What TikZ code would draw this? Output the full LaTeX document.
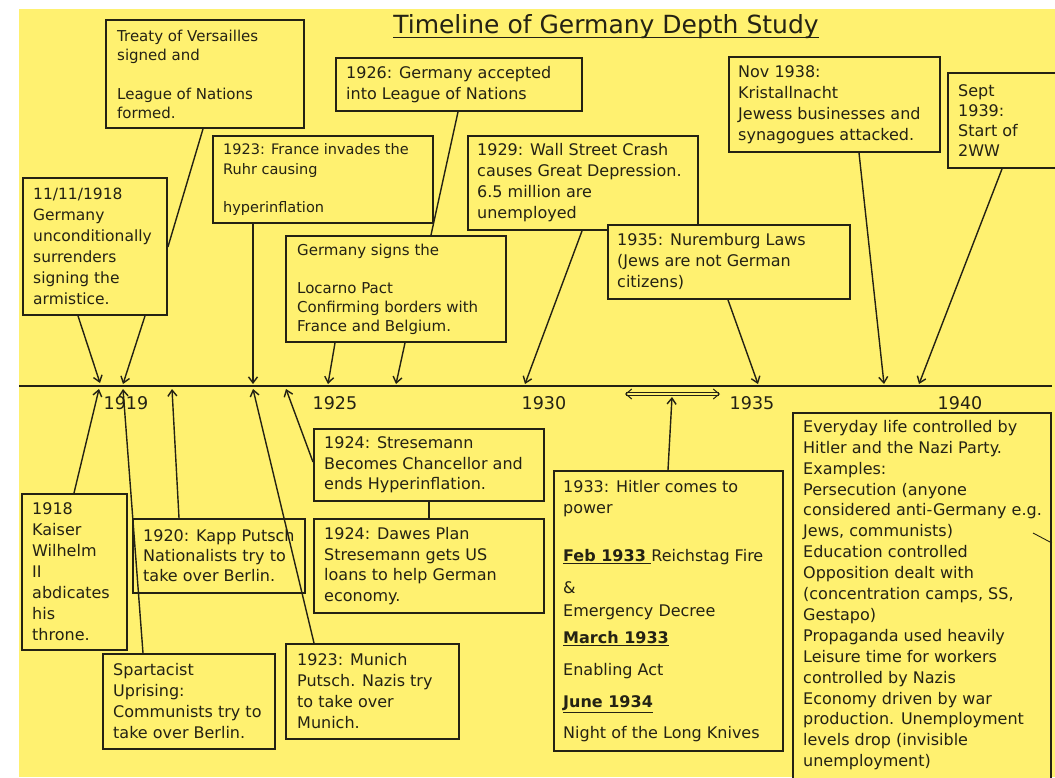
\documentclass[tikz,border=0pt]{standalone}
\usepackage{fontspec}
\setmainfont{DejaVu Sans}
\usetikzlibrary{arrows.meta}
\definecolor{paper}{RGB}{255,241,112}
\definecolor{ink}{RGB}{36,34,20}
\newcommand\evfont{\fontsize{16}{21}\selectfont}
\newcommand\yearfont{\fontsize{17.5}{20}\selectfont}
\newcommand\titlefont{\fontsize{25}{30}\selectfont}
% \eventbox[font]{name}{x}{y}{width}{height}{left pad}{text}
\newcommand\eventbox[8][\evfont]{%
  \node[frame, minimum width=#5pt, minimum height=#6pt] (#2) at (#3,#4) {};
  \node[words, font=#1] (#2-text) at ([xshift=#7pt]#2.west) {#8};}
\begin{document}
\begin{tikzpicture}[x=1pt,y=-1pt,
  frame/.style={draw=ink, fill=paper, line width=1.9pt, inner sep=0pt, anchor=north west},
  words/.style={text=ink, align=left, inner sep=0pt, anchor=west},
  link/.style={draw=ink, line width=1.4pt},
  pointer/.style={link, -{Straight Barb[length=6pt,width=9pt]}},
  year/.style={text=ink, inner sep=0pt, font=\yearfont, anchor=base}]
\useasboundingbox (0,0) rectangle (1055,777);
\begin{scope}
\clip (0,0) rectangle (1055,777);
\fill[paper] (19,9) rectangle (1055,777);

% title
\node[text=ink, inner sep=0pt, font=\titlefont, anchor=base] (title) at (606,33) {Timeline of Germany Depth Study};
\draw[ink, line width=1.8pt] ([yshift=-4.5pt]title.base west) -- ([yshift=-4.5pt]title.base east);

% the time axis
\coordinate (axisL) at (19,386);
\coordinate (axisR) at (1052,386);
\draw[ink, line width=2.4pt] (axisL) -- (axisR);
\node[year] (y1919) at (126,409) {1919};
\node[year] (y1925) at (335,409) {1925};
\node[year] (y1930) at (544,409) {1930};
\node[year] (y1935) at (752,409) {1935};
\node[year] (y1940) at (960,409) {1940};

% events above the axis
\eventbox[\fontsize{15}{19}\selectfont]{versailles}{105}{19}{198}{108}{12}{Treaty of Versailles\\signed and\\[20pt]League of Nations\\formed.}
\eventbox[\fontsize{15.5}{21}\selectfont]{armistice}{22}{177}{144}{137}{11}{11/11/1918\\Germany\\unconditionally\\surrenders\\signing the\\armistice.}
\eventbox[\fontsize{14.5}{20}\selectfont]{ruhr}{212}{135}{220}{87}{11}{1923: France invades the\\Ruhr causing\\[18pt]hyperinflation}
\eventbox{league}{335}{57}{246}{53}{11}{1926: Germany accepted\\into League of Nations}
\eventbox[\fontsize{15}{19}\selectfont]{locarno}{285}{235}{220}{106}{12}{Germany signs the\\[19pt]Locarno Pact\\Confirming borders with\\France and Belgium.}
\eventbox{crash}{467}{135}{230}{94}{10}{1929: Wall Street Crash\\causes Great Depression.\\6.5 million are\\unemployed}
\eventbox{nuremberg}{607}{224}{242}{74}{10}{1935: Nuremburg Laws\\(Jews are not German\\citizens)}
\eventbox{kristall}{728}{56}{211}{95}{10}{Nov 1938:\\Kristallnacht\\Jewess businesses and\\synagogues attacked.}
\eventbox[\fontsize{16}{20}\selectfont]{war}{947}{72}{130}{95}{11}{Sept\\1939:\\Start of\\2WW}

% events below the axis
\eventbox{kaiser}{21}{493}{105}{156}{11}{1918\\Kaiser\\Wilhelm\\II\\abdicates\\his\\throne.}
\eventbox[\fontsize{16}{20}\selectfont]{kapp}{132}{518}{172}{74}{11}{1920: Kapp Putsch\\Nationalists try to\\take over Berlin.}
\eventbox{spartacist}{102}{653}{172}{95}{11}{Spartacist\\Uprising:\\Communists try to\\take over Berlin.}
\eventbox{munich}{285}{643}{173}{95}{12}{1923: Munich\\Putsch. Nazis try\\to take over\\Munich.}
\eventbox[\fontsize{16}{20.5}\selectfont]{stresemann}{313}{428}{230}{72}{11}{1924: Stresemann\\Becomes Chancellor and\\ends Hyperinflation.}
\eventbox[\fontsize{16}{20.7}\selectfont]{dawes}{313}{518}{230}{94}{11}{1924: Dawes Plan\\Stresemann gets US\\loans to help German\\economy.}
\eventbox{hitler}{553}{470}{229}{280}{10}{1933: Hitler comes to\\power\\[27pt]\underline{\textbf{Feb 1933 }}Reichstag Fire\\[11pt]\&\\[2pt]Emergency Decree\\[6pt]\underline{\textbf{March 1933}}\\[11pt]Enabling Act\\[11pt]\underline{\textbf{June 1934}}\\[10pt]Night of the Long Knives}

% the long list runs past the lower edge
\node[frame, minimum width=258pt, minimum height=400pt] (everyday) at (792,412) {};
\node[words, anchor=north west, font=\fontsize{16}{20.9}\selectfont] (everyday-text) at ([xshift=11pt,yshift=-8pt]everyday.north west)
  {Everyday life controlled by\\Hitler and the Nazi Party.\\Examples:\\Persecution (anyone\\considered anti-Germany e.g.\\Jews, communists)\\Education controlled\\Opposition dealt with\\(concentration camps, SS,\\Gestapo)\\Propaganda used heavily\\Leisure time for workers\\controlled by Nazis\\Economy driven by war\\production. Unemployment\\levels drop (invisible\\unemployment)};

% points on the axis
\coordinate (t1) at (100,383);
\coordinate (t2) at (123,384);
\coordinate (t3) at (253,384);
\coordinate (t4) at (328,384);
\coordinate (t5) at (396,384);
\coordinate (t6) at (525,384);
\coordinate (t7) at (758,384);
\coordinate (t8) at (884,384);
\coordinate (t9) at (919,384);
\coordinate (b1) at (99,389);
\coordinate (b2) at (172,389);
\coordinate (b3) at (123,389);
\coordinate (b4) at (253,389);
\coordinate (b5) at (286,389);
\coordinate (b6) at (672,397);
\coordinate (spanL) at (625,394);
\coordinate (spanR) at (720,394);
\coordinate (stray) at (1033,533);

% connectors above the axis
\draw[pointer] ([xshift=56pt]armistice.south west) -- (t1);
\draw[pointer] ([xshift=123pt]armistice.south west) -- (t2);
\draw[link] ([xshift=98pt]versailles.south west) -- ([yshift=-70pt]armistice.north east);
\draw[pointer] ([xshift=41pt]ruhr.south west) -- (t3);
\draw[pointer] ([xshift=50pt]locarno.south west) -- (t4);
\draw[pointer] ([xshift=120pt]locarno.south west) -- (t5);
\draw[link] ([xshift=123pt]league.south west) -- ([xshift=146pt]locarno.north west);
\draw[pointer] ([xshift=115pt]crash.south west) -- (t6);
\draw[pointer] ([xshift=121pt]nuremberg.south west) -- (t7);
\draw[pointer] ([xshift=131pt]kristall.south west) -- (t8);
\draw[pointer] ([xshift=55pt]war.south west) -- (t9);

% connectors below the axis
\draw[pointer] ([xshift=53pt]kaiser.north west) -- (b1);
\draw[pointer] ([xshift=47pt]kapp.north west) -- (b2);
\draw[pointer] ([xshift=41pt]spartacist.north west) -- (b3);
\draw[pointer] ([xshift=29pt]munich.north west) -- (b4);
\draw[pointer] ([yshift=-34pt]stresemann.north west) -- (b5);
\draw[link] ([xshift=116pt]stresemann.south west) -- ([xshift=116pt]dawes.north west);
\draw[pointer] ([xshift=115pt]hitler.north west) -- (b6);
\draw[ink, line width=1pt, double=paper, double distance=2pt,
  {Straight Barb[length=6pt,width=10pt]}-{Straight Barb[length=6pt,width=10pt]}] (spanL) -- (spanR);
\draw[link, line width=0.9pt] (stray) -- ([yshift=-131pt]everyday.north east);
\end{scope}
\end{tikzpicture}
\end{document}
